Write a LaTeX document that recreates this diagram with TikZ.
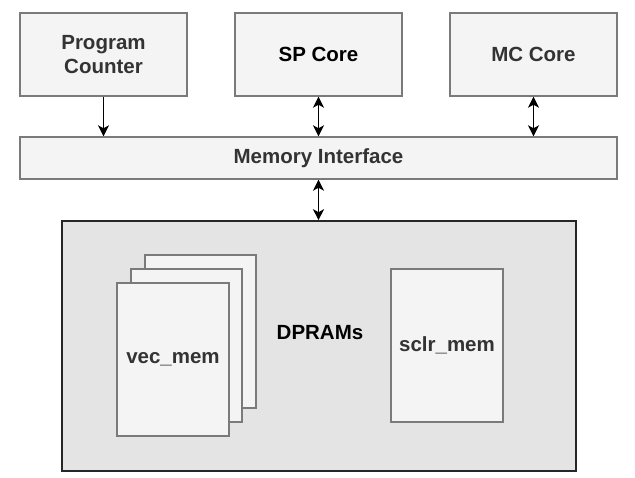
\documentclass[tikz,border=0pt]{standalone}
\usepackage{fontspec}
\setmainfont{Liberation Sans}
\usetikzlibrary{arrows.meta}
\pgfdeclarelayer{edgelayer}
\pgfdeclarelayer{nodelayer}
\pgfsetlayers{edgelayer,nodelayer,main}
\definecolor{boxfill}{HTML}{F4F4F4}
\definecolor{boxline}{HTML}{7A7A7A}
\definecolor{groupfill}{HTML}{E4E4E4}
\definecolor{labeltext}{HTML}{333333}
\tikzstyle{unit_box}=[rectangle,fill=boxfill,draw=boxline,line width=1.4pt,inner sep=0pt,align=center,text=labeltext,font=\bfseries\fontsize{20.5}{24}\selectfont]
\tikzstyle{group_box}=[rectangle,fill=groupfill,draw=black!85,line width=1.6pt,inner sep=0pt]
\tikzstyle{plain_label}=[font=\bfseries\fontsize{20.5}{24}\selectfont,text=black]
\tikzstyle{transition}=[-{Stealth[length=11pt,width=11pt,inset=3pt]},draw=black,line width=1.6pt]
\tikzstyle{duplex}=[{Stealth[length=11pt,width=11pt,inset=3pt]}-{Stealth[length=11pt,width=11pt,inset=3pt]},draw=black,line width=1.6pt]

\begin{document}
\begin{tikzpicture}[x=1pt,y=-1pt]
	\useasboundingbox (0,0) rectangle (635,477);
	\begin{pgfonlayer}{nodelayer}
		\node [style={unit_box},minimum width=167pt,minimum height=83pt] (0) at (103.5, 54.5) {Program\\Counter};
		\node [style={unit_box},minimum width=167pt,minimum height=83pt,text=black] (1) at (318.5, 54.5) {SP Core};
		\node [style={unit_box},minimum width=167pt,minimum height=83pt] (2) at (533.5, 54.5) {MC Core};
		\node [style={unit_box},minimum width=597pt,minimum height=42pt] (3) at (318.5, 158) {Memory Interface};
		\node [style={group_box},minimum width=514pt,minimum height=250pt] (4) at (319, 346) {};
		\node [style={unit_box},minimum width=111pt,minimum height=153pt] (5) at (200.5, 331.5) {};
		\node [style={unit_box},minimum width=111pt,minimum height=153pt] (6) at (186.5, 345.5) {};
		\node [style={unit_box},minimum width=112pt,minimum height=153pt] (7) at (173, 359.5) {vec\_mem};
		\node [style={plain_label}] (8) at (320, 333) {DPRAMs};
		\node [style={unit_box},minimum width=112pt,minimum height=153pt] (9) at (447, 345.5) {sclr\_mem};
	\end{pgfonlayer}
	\begin{pgfonlayer}{edgelayer}
		\draw [style=transition] (0.south) to (0.south |- 3.north);
		\draw [style=duplex] (1.south) to (1.south |- 3.north);
		\draw [style=duplex] (2.south) to (2.south |- 3.north);
		\draw [style=duplex] (3.south) to (3.south |- 4.north);
	\end{pgfonlayer}
\end{tikzpicture}
\end{document}
